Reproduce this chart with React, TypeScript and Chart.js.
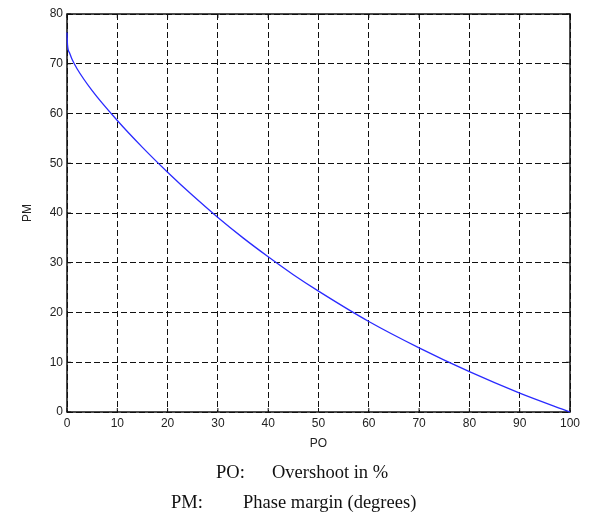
import React, { useEffect, useRef } from "react";
import { Chart, registerables } from "chart.js";

Chart.register(...registerables);

// Percent overshoot (PO) and phase margin (PM, degrees)
const poValues = [0, 0.1, 0.5, 1, 2, 5, 10, 15, 20, 25, 30, 35, 40, 45, 50, 60, 70, 80, 90, 100];
const pmValues = [76.3, 73.8, 72.2, 70.9, 69.0, 64.6, 58.6, 53.2, 48.2, 43.5, 39.1, 35.0, 31.2, 27.6, 24.3, 18.2, 12.9, 8.1, 3.8, 0];

const xTitle = "PO";
const yTitle = "PM";
const noteLines = [
  { key: "PO:", text: "Overshoot in %" },
  { key: "PM:", text: "Phase margin (degrees)" },
];

const boxPlugin = {
  id: "box",
  beforeDatasetsDraw(chart: any) {
    const { ctx, chartArea } = chart;
    const { left, right, top, bottom } = chartArea;
    ctx.save();
    ctx.strokeStyle = "#111";
    ctx.lineWidth = 1.5;
    ctx.setLineDash([]);
    ctx.strokeRect(left, top, right - left, bottom - top);
    // inward tick marks
    ctx.lineWidth = 1;
    const xs = chart.scales.x;
    const ys = chart.scales.y;
    const tl = 4;
    xs.ticks.forEach((t: any) => {
      const px = xs.getPixelForValue(t.value);
      ctx.beginPath();
      ctx.moveTo(px, bottom);
      ctx.lineTo(px, bottom - tl);
      ctx.moveTo(px, top);
      ctx.lineTo(px, top + tl);
      ctx.stroke();
    });
    ys.ticks.forEach((t: any) => {
      const py = ys.getPixelForValue(t.value);
      ctx.beginPath();
      ctx.moveTo(left, py);
      ctx.lineTo(left + tl, py);
      ctx.moveTo(right, py);
      ctx.lineTo(right - tl, py);
      ctx.stroke();
    });
    ctx.restore();
  },
};

export default function App() {
  const ref = useRef<HTMLCanvasElement | null>(null);

  useEffect(() => {
    if (!ref.current) return;
    const tickFont = { family: "'Liberation Sans', Arial, sans-serif", size: 12 };
    const chart = new Chart(ref.current, {
      type: "line",
      data: {
        datasets: [
          {
            data: poValues.map((x, i) => ({ x, y: pmValues[i] })),
            borderColor: "#2a2aff",
            borderWidth: 1.3,
            pointRadius: 0,
            fill: false,
            clip: false,
            cubicInterpolationMode: "monotone",
          },
        ],
      },
      options: {
        responsive: false,
        animation: false,
        events: [],
        layout: { padding: { left: 0, top: 14, right: 22, bottom: 63 } },
        plugins: { legend: { display: false }, tooltip: { enabled: false } },
        scales: {
          x: {
            type: "linear",
            min: 0,
            max: 100,
            afterFit: (s: any) => {
              s.height = 40;
            },
            ticks: { stepSize: 10, color: "#222", font: tickFont, padding: 4, maxRotation: 0 },
            grid: { color: "#111", lineWidth: 1, drawTicks: false },
            border: { display: false, dash: [6, 3] },
            title: { display: true, text: xTitle, color: "#222", font: tickFont, padding: { top: 0, bottom: 1 } },
          },
          y: {
            type: "linear",
            min: 0,
            max: 80,
            afterFit: (s: any) => {
              s.width = 67;
            },
            ticks: { stepSize: 10, color: "#222", font: tickFont, padding: 4 },
            grid: { color: "#111", lineWidth: 1, drawTicks: false },
            border: { display: false, dash: [6, 3] },
            title: { display: true, text: yTitle, color: "#222", font: tickFont, padding: { top: 20, bottom: 0 } },
          },
        },
      },
      plugins: [boxPlugin],
    } as any);
    return () => chart.destroy();
  }, []);

  const serif = "'Liberation Serif', 'Times New Roman', serif";
  const txt = (left: number, top: number, s: string) => (
    <div
      style={{
        position: "absolute",
        left,
        top,
        fontFamily: serif,
        fontSize: 18.5,
        lineHeight: "18px",
        color: "#111",
        whiteSpace: "nowrap",
      }}
    >
      {s}
    </div>
  );
  return (
    <div style={{ position: "absolute", left: 0, top: 0, width: 592, height: 515, background: "#fff" }}>
      <canvas ref={ref} width={592} height={515} style={{ display: "block" }} />
      {txt(216, 463, noteLines[0].key)}
      {txt(272, 463, noteLines[0].text)}
      {txt(171, 493, noteLines[1].key)}
      {txt(243, 493, noteLines[1].text)}
    </div>
  );
}
